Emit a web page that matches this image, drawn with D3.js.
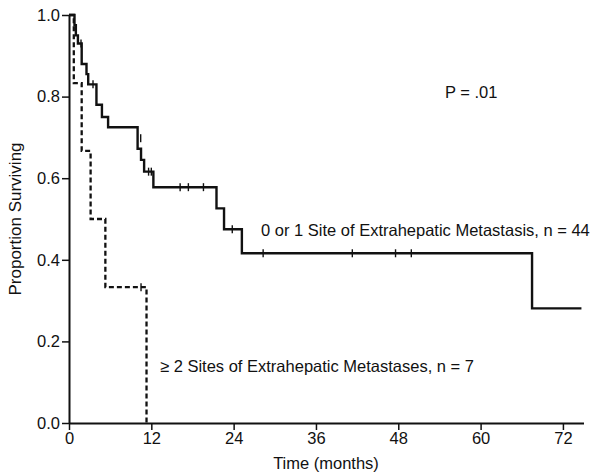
<!DOCTYPE html>
<html><head><meta charset="utf-8">
<script src="https://cdn.jsdelivr.net/npm/d3@7"></script>
<style>body{margin:0;background:#fff}svg{display:block}text{font-family:"Liberation Sans",Arial,sans-serif;fill:#111}</style>
</head><body><svg id="c" width="604" height="476"></svg>
<script>
// Kaplan-Meier: 0 or 1 site
const solidTimes = [0, 0.8, 1.0, 1.3, 1.85, 2.55, 2.8, 4.0, 4.8, 5.7, 10.0, 10.5, 10.95, 12.3, 21.5, 22.6, 25.2, 67.5];
const solidSurv  = [1.0, 0.975, 0.95, 0.93, 0.88, 0.855, 0.83, 0.78, 0.75, 0.725, 0.672, 0.645, 0.616, 0.578, 0.526, 0.475, 0.416, 0.281];
const solidEnd = 74.7;
const solidCensorTimes = [1.75, 3.5, 10.45, 11.6, 12.0, 16.2, 17.4, 19.6, 23.8, 28.3, 41.3, 47.6, 49.9];
const solidCensorSurv  = [0.93, 0.83, 0.698, 0.616, 0.616, 0.578, 0.578, 0.578, 0.475, 0.416, 0.416, 0.416, 0.416];
// >= 2 sites
const dashTimes = [0, 0.7, 1.85, 3.15, 5.3, 11.3];
const dashSurv  = [1.0, 0.833, 0.667, 0.5, 0.333, 0];
const dashEnd = 11.3;
const dashCensorTimes = [10.5];
const dashCensorSurv  = [0.333];
const xTicks = [0, 12, 24, 36, 48, 60, 72];
const yTicks = [0, 0.2, 0.4, 0.6, 0.8, 1.0];

const svg = d3.select("#c");
const x = d3.scaleLinear().domain([0, 75]).range([69, 583.5]);
const y = d3.scaleLinear().domain([0, 1]).range([423, 15]);

function stepPoints(times, surv, end) {
  const pts = [];
  times.forEach((t, i) => {
    if (i > 0) pts.push([t, surv[i - 1]]);
    pts.push([t, surv[i]]);
  });
  if (end > times[times.length - 1]) pts.push([end, surv[surv.length - 1]]);
  return pts;
}
const line = d3.line().x(d => x(d[0])).y(d => y(d[1]));

// axes
const xAxis = svg.append("g").attr("transform", "translate(0,423)")
  .call(d3.axisBottom(x).tickValues(xTicks).tickSize(7).tickPadding(2).tickSizeOuter(0));
const yAxis = svg.append("g").attr("transform", "translate(69,0)")
  .call(d3.axisLeft(y).tickValues(yTicks).tickFormat(d3.format(".1f")).tickSize(7).tickPadding(2).tickSizeOuter(0));
[xAxis, yAxis].forEach(g => {
  g.select(".domain").attr("stroke", "#111").attr("stroke-width", 2);
  g.selectAll(".tick line").attr("stroke", "#111").attr("stroke-width", 1.5);
  g.selectAll(".tick text").attr("font-size", 16.5).attr("fill", "#111")
    .style("font-family", "'Liberation Sans', Arial, sans-serif");
});

// curves
svg.append("path").attr("d", line(stepPoints(solidTimes, solidSurv, solidEnd)))
  .attr("fill", "none").attr("stroke", "#111").attr("stroke-width", 2.4);
svg.append("path").attr("d", line(stepPoints(dashTimes, dashSurv, dashEnd)))
  .attr("fill", "none").attr("stroke", "#111").attr("stroke-width", 2.3)
  .attr("stroke-dasharray", "5,3");

// censor marks
function censors(times, surv) {
  svg.append("g").selectAll("line").data(times).join("line")
    .attr("x1", d => x(d)).attr("x2", d => x(d))
    .attr("y1", (d, i) => y(surv[i]) - 4).attr("y2", (d, i) => y(surv[i]) + 4)
    .attr("stroke", "#111").attr("stroke-width", 1.4);
}
censors(solidCensorTimes, solidCensorSurv);
censors(dashCensorTimes, dashCensorSurv);

// labels
svg.append("text").attr("x", 326).attr("y", 469).attr("text-anchor", "middle").attr("font-size", 16.5).text("Time (months)");
svg.append("text").attr("transform", "translate(21,219) rotate(-90)").attr("text-anchor", "middle").attr("font-size", 17).text("Proportion Surviving");
svg.append("text").attr("x", 445).attr("y", 98).attr("font-size", 16.5).text("P = .01");
svg.append("text").attr("x", 261).attr("y", 236).attr("font-size", 16.5).text("0 or 1 Site of Extrahepatic Metastasis, n = 44");
svg.append("text").attr("x", 160).attr("y", 372).attr("font-size", 16.5).text("\u2265 2 Sites of Extrahepatic Metastases, n = 7");
</script></body></html>
